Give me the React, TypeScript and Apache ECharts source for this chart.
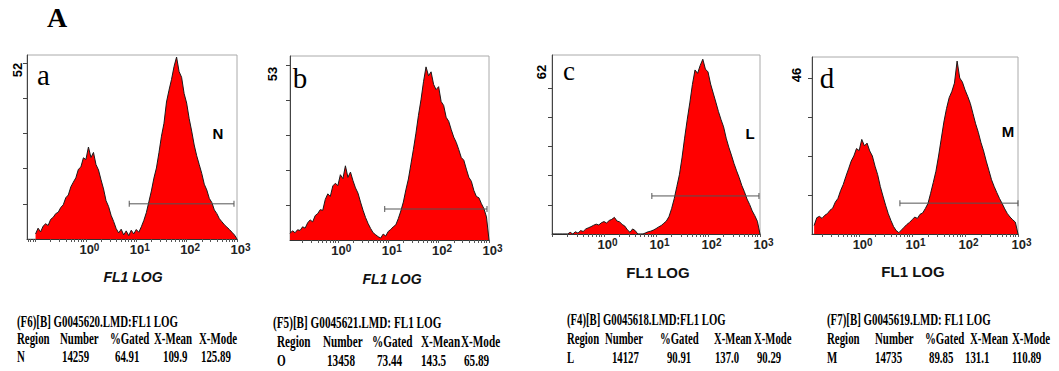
import React, { useEffect, useRef } from "react";
import * as echarts from "echarts";

// ---------------- DATA ----------------
const BIN_STEP = 0.05; // histogram channel width, in log10 decades

// panel a (x in log10 FL1, y in counts)
const histStartA = -1.0;
const histA = [
  1.5, 3.2, 2.1, 3.8, 4.5, 4.0, 5.8, 6.4, 7.5, 7.9,
  9.3, 10.1, 12.2, 13.0, 15.4, 16.8, 18.1, 20.6, 21.3, 24.0,
  23.5, 27.2, 24.1, 25.6, 22.0, 20.4, 17.5, 14.8, 11.3, 9.6,
  7.0, 5.2, 3.1, 1.8, 2.9, 1.2, 2.4, 1.0, 2.6, 1.5,
  2.8, 2.0, 3.6, 5.5, 7.8, 11.0, 14.2, 18.0, 21.0, 25.5,
  30.4, 34.2, 40.5, 44.0, 47.2, 51.0, 53.8, 49.5, 47.8, 43.0,
  40.2, 35.6, 31.9, 27.8, 24.6, 22.0, 19.4, 16.2, 14.5, 12.0,
  10.8, 8.6, 7.5, 6.0, 5.1, 4.2, 3.5, 2.8, 2.0, 1.2,
  0,
];

// panel b
const histStartB = -0.95;
const histB = [
  2.0, 2.8, 2.2, 3.1, 2.9, 4.0, 3.6, 5.2, 6.1, 5.5,
  7.4, 8.0, 9.2, 9.0, 12.3, 14.0, 13.2, 16.4, 17.2, 16.5,
  19.8, 18.6, 22.5, 19.0, 20.6, 18.0, 15.8, 14.2, 11.5, 9.0,
  6.8, 5.0, 3.5, 2.2, 1.6, 1.0, 0.6, 1.8, 1.2, 2.6,
  3.2, 4.0, 4.6, 6.5, 8.8, 11.5, 15.2, 18.5, 23.0, 27.5,
  32.4, 37.8, 42.5, 48.0, 52.5, 49.8, 51.0, 47.2, 45.6, 46.5,
  42.0, 40.8, 37.2, 36.0, 33.5, 31.2, 29.6, 27.4, 25.0, 24.2,
  21.5, 19.0, 17.8, 15.0, 13.2, 12.8, 11.0, 9.5, 7.0, 0,
];

// panel c
const histStartC = -1.0;
const histC = [
  0, 0, 0, 0, 0, 0, 0, 0.6, 0, 0.8,
  0.3, 1.2, 0.9, 1.8, 2.2, 2.6, 3.1, 3.5, 3.2, 4.0,
  4.4, 3.9, 4.8, 5.2, 5.9, 4.6, 4.3, 3.4, 2.8, 1.5,
  0.6, 1.8, 1.2, 0, 0, 0, 0.4, 0.8, 1.0, 1.4,
  1.9, 2.5, 3.0, 3.8, 4.6, 6.2, 9.0, 12.5, 16.8, 21.0,
  27.0, 34.0, 40.5, 46.5, 53.0, 58.2, 57.0, 59.8, 62.0, 58.5,
  57.5, 53.2, 50.0, 46.8, 43.5, 40.6, 38.0, 34.0, 30.8, 28.0,
  25.0, 22.4, 20.0, 17.2, 15.0, 12.4, 10.5, 8.2, 6.5, 4.5,
  0,
];

// panel d
const histStartD = -0.85;
const histD = [
  2.5, 4.8, 5.2, 4.6, 5.5, 6.0, 7.0, 7.6, 9.4, 10.5,
  12.8, 14.6, 17.0, 19.2, 21.5, 23.0, 25.2, 24.6, 27.9, 26.0,
  26.8, 24.5, 23.0, 20.0, 17.5, 14.0, 11.2, 8.5, 6.0, 4.0,
  2.2, 1.0, 0.4, 1.2, 2.0, 2.8, 3.4, 4.2, 5.0, 4.6,
  5.8, 6.2, 7.5, 9.0, 12.0, 15.2, 18.5, 23.0, 28.0, 33.0,
  37.0, 40.2, 42.0, 44.5, 51.0, 46.0, 44.8, 42.5, 40.6, 38.5,
  35.5, 32.5, 30.0, 27.0, 24.5, 21.5, 18.8, 16.0, 14.0, 12.2,
  10.5, 9.0, 7.4, 6.0, 5.0, 4.2, 3.5, 0,
];

// gates: [from log10, to log10, level in counts]
const gateA = [0.86, 2.94, 10.4];
const gateB = [0.93, 2.96, 9.4];
const gateC = [0.92, 2.98, 13.5];
const gateD = [0.77, 3.0, 9.1];

// axes
const xAxisMin = [-1.17, -0.95, -1.0, -0.89];
const xAxisMax = 3;
const decadeExponents = [0, 1, 2, 3];
const tickDecades = [-2, -1, 0, 1, 2, 3];
const tickMantissas = [1, 2, 3, 4, 5, 6, 7, 8, 9];
const yAxisMax = [54.4, 55.8, 63.5, 52.2];
const yTicksA = [10.4, 20.8, 31.2, 41.6, 52];
const yTicksB = [10.6, 21.2, 31.8, 42.4, 53];
const yTicksC = [10.35, 20.7, 31.05, 41.4, 51.75];
const yTicksD = [11.5, 23, 34.5, 46];
const yMaxLabels = ["52", "53", "62", "46"];

// texts
const figureLetter = "A";
const panelLetters = ["a", "b", "c", "d"];
const regionLetters = ["N", "", "L", "M"];
const xAxisTitle = "FL1 LOG";
const tableTitles = [
  "(F6)[B] G0045620.LMD:FL1 LOG",
  "(F5)[B] G0045621.LMD: FL1 LOG",
  "(F4)[B] G0045618.LMD:FL1 LOG",
  "(F7)[B] G0045619.LMD: FL1 LOG",
];
const tableHeader = ["Region", "Number", "%Gated", "X-Mean", "X-Mode"];
const tableRowA = ["N", "14259", "64.91", "109.9", "125.89"];
const tableRowB = ["O", "13458", "73.44", "143.5", "65.89"];
const tableRowC = ["L", "14127", "90.91", "137.0", "90.29"];
const tableRowD = ["M", "14735", "89.85", "131.1", "110.89"];

// ---------------- LAYOUT ----------------
const grids = [
  { left: 27, top: 55, width: 210, height: 184 },
  { left: 290, top: 56, width: 199, height: 184 },
  { left: 552, top: 55, width: 208, height: 179 },
  { left: 812, top: 57, width: 206, height: 177 },
];
const panelLetterPos = [
  [43.5, 75, 29],
  [300, 78, 29],
  [569, 71, 27],
  [827, 78, 29],
];
const regionLetterPos = [
  [218, 133],
  [0, 0],
  [750, 133],
  [1008, 131],
];
const yLabelPos = [
  [17, 70],
  [272, 74],
  [541, 72],
  [796, 75],
];
const xTitlePos = [
  [133, 277, "italic"],
  [392, 279, "italic"],
  [658, 272, "normal"],
  [913, 271, "normal"],
];
const tableScale = [0.68, 0.7, 0.67, 0.68];
const tableLayout = [
  { title: [17, 321.5], headerY: 339, rowY: 357, headerX: [17, 60, 110, 154, 199], rowX: [17, 62, 115, 163, 201] },
  { title: [273, 323], headerY: 341.5, rowY: 361, headerX: [277, 323, 372, 421, 461], rowX: [277, 327, 377, 421, 464] },
  { title: [567, 320], headerY: 338.5, rowY: 358, headerX: [567, 605, 660, 714, 754], rowX: [567, 612, 667, 715, 757] },
  { title: [827, 320], headerY: 338.5, rowY: 358, headerX: [827, 875, 925, 970, 1012], rowX: [827, 875, 929, 965, 1012] },
];

const SANS = "Liberation Sans";
const SERIF = "Liberation Serif";

function logTicks(min: number, max: number) {
  const out: number[] = [];
  for (const d of tickDecades) {
    for (const m of tickMantissas) {
      const v = d + Math.log10(m);
      if (v >= min - 1e-9 && v <= max + 1e-9) out.push(v);
    }
  }
  return out;
}

function toPoints(start: number, values: number[]) {
  return values.map((v, i) => [Math.round((start + i * BIN_STEP) * 1000) / 1000, v]);
}

function txt(
  text: string,
  x: number,
  y: number,
  family: string,
  size: number,
  weight: string,
  extra: any = {}
) {
  const align = extra.align || "left";
  const vAlign = extra.verticalAlign || "middle";
  return {
    type: "text",
    x,
    y,
    rotation: extra.rotation || 0,
    scaleX: extra.scaleX || 1,
    silent: true,
    z: 10,
    style: {
      text,
      fontFamily: family,
      fontSize: size,
      fontWeight: weight,
      fontStyle: extra.fontStyle || "normal",
      fill: extra.fill || "#000",
      align,
      verticalAlign: vAlign,
      textAlign: align,
      textVerticalAlign: vAlign,
    },
  };
}

export default function App() {
  const ref = useRef<HTMLDivElement>(null);

  useEffect(() => {
    document.body.style.margin = "0";
    if (!ref.current) return;
    const chart = echarts.init(ref.current, undefined, { renderer: "svg" });

    const hists = [
      toPoints(histStartA, histA),
      toPoints(histStartB, histB),
      toPoints(histStartC, histC),
      toPoints(histStartD, histD),
    ];
    const gates = [gateA, gateB, gateC, gateD];
    const yTicks = [yTicksA, yTicksB, yTicksC, yTicksD];
    const rows = [tableRowA, tableRowB, tableRowC, tableRowD];

    const xAxis = grids.map((_, i) => ({
      gridIndex: i,
      type: "value",
      min: xAxisMin[i],
      max: xAxisMax,
      splitLine: { show: false },
      axisLine: { show: true, onZero: false, lineStyle: { color: "#333", width: 1 } },
      axisTick: {
        show: true,
        customValues: logTicks(xAxisMin[i], xAxisMax),
        length: 3,
        inside: false,
        lineStyle: { color: "#555", width: 1 },
      },
      axisLabel: {
        show: true,
        customValues: decadeExponents,
        margin: 3,
        formatter: (v: number) => "{b|10}{s|" + Math.round(v) + "}",
        rich: {
          b: { fontSize: 13, fontWeight: "bold", fontFamily: SANS, color: "#222", padding: [0, 0, 0, 7], lineHeight: 15 },
          s: { fontSize: 10, fontWeight: "bold", fontFamily: SANS, color: "#222", verticalAlign: "top", lineHeight: 10 },
        },
      },
    }));

    const yAxis = grids.map((_, i) => ({
      gridIndex: i,
      type: "value",
      min: 0,
      max: yAxisMax[i],
      splitLine: { show: false },
      axisLine: { show: true, onZero: false, lineStyle: { color: "#444", width: 1 } },
      axisTick: { show: true, customValues: yTicks[i], length: 4, lineStyle: { color: "#444" } },
      axisLabel: { show: false },
    }));

    const series: any[] = [];
    hists.forEach((pts, i) => {
      series.push({
        type: "line",
        xAxisIndex: i,
        yAxisIndex: i,
        data: pts,
        symbol: "none",
        silent: true,
        z: 2,
        lineStyle: { color: "#1a1a1a", width: 1 },
        areaStyle: { color: "#ff0000", opacity: 1 },
      });
      const g = gates[i];
      series.push({
        type: "line",
        xAxisIndex: i,
        yAxisIndex: i,
        data: [
          [g[0], g[2]],
          [g[1], g[2]],
        ],
        symbol: "rect",
        symbolSize: [1, 6],
        silent: true,
        z: 3,
        itemStyle: { color: "#555" },
        lineStyle: { color: "#555", width: 1 },
      });
    });

    const graphics: any[] = [];
    graphics.push(txt(figureLetter, 57, 17.5, SERIF, 28, "bold", { align: "center" }));
    panelLetters.forEach((l, i) => {
      const p = panelLetterPos[i];
      graphics.push(txt(l, p[0], p[1], SERIF, p[2], "normal", { align: "center" }));
    });
    regionLetters.forEach((l, i) => {
      if (!l) return;
      const p = regionLetterPos[i];
      graphics.push(txt(l, p[0], p[1], SANS, 15, "bold", { align: "center" }));
    });
    yMaxLabels.forEach((l, i) => {
      const p = yLabelPos[i];
      graphics.push(txt(l, p[0], p[1], SANS, 13, "bold", { align: "center", rotation: Math.PI / 2 }));
    });
    xTitlePos.forEach((p) => {
      const italic = p[2] === "italic";
      graphics.push(
        txt(xAxisTitle, p[0] as number, p[1] as number, SANS, italic ? 14 : 15, "bold", {
          align: "center",
          fill: "#111",
          fontStyle: italic ? "italic" : "normal",
        })
      );
    });
    tableLayout.forEach((t, i) => {
      const sx = tableScale[i];
      graphics.push(txt(tableTitles[i], t.title[0], t.title[1], SERIF, 16, "bold", { scaleX: sx }));
      tableHeader.forEach((h, j) => {
        graphics.push(txt(h, t.headerX[j], t.headerY, SERIF, 16, "bold", { scaleX: sx }));
      });
      rows[i].forEach((c, j) => {
        graphics.push(txt(c, t.rowX[j], t.rowY, SERIF, 16, "bold", { scaleX: sx }));
      });
    });

    chart.setOption({
      animation: false,
      backgroundColor: "#fff",
      grid: grids.map((g) => ({ ...g, show: true, borderColor: "#aaa", borderWidth: 1, backgroundColor: "transparent" })),
      xAxis,
      yAxis,
      series,
      graphic: { elements: graphics },
    });

    return () => chart.dispose();
  }, []);

  return <div ref={ref} style={{ width: 1059, height: 371 }} />;
}
